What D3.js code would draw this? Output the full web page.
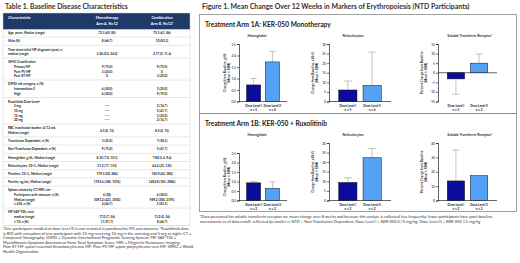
<!DOCTYPE html>
<html><head><meta charset="utf-8">
<script src="https://cdn.jsdelivr.net/npm/d3@7/dist/d3.min.js"></script>
<style>
html,body{margin:0;padding:0;background:#fff;}
svg{display:block;}
text{font-family:Lato,"Open Sans","DejaVu Sans",sans-serif;}
</style></head>
<body>
<svg id="chart" width="520" height="263" viewBox="0 0 520 263"></svg>
<script>
// ---------------- DATA ----------------
const tableTitle = "Table 1. Baseline Disease Characteristics";
const tableColumns = ["Characteristic", ["Monotherapy", "Arm A, N=12"], ["Combination", "Arm B, N=12\u1d43"]];
const rowLabels = [
  ["Age, years, Median (range)"],
  ["Male (%)"],
  ["Time since initial MF diagnosis (year), n,", "median (range)"],
  ["WHO Classification", "Primary MF", "Post-PV MF", "Post-ET MF"],
  ["DIPSS risk category, n (%)", "Intermediate-2", "High"],
  ["Ruxolitinib Dose Level\u1d47", "5 mg", "10 mg", "15 mg", "20 mg"],
  ["RBC transfusion burden, U/12 wk,", "Median (range)"],
  ["Transfusion Dependent, n (%)"],
  ["Non-Transfusion Dependent, n (%)"],
  ["Hemoglobin, g/dL, Median (range)"],
  ["Reticulocytes, 10\u2079/L, Median (range)"],
  ["Platelets, 10\u2079/L, Median (range)"],
  ["Ferritin, ng/mL, Median (range)"],
  ["Spleen volume by CT/MRI, cm\u00b3", "Participants with measure, n (%)", "Median (range)", "\u2265 450, n (%)"],
  ["MF-SAF-TSS, total", "median (range)", "\u2265 10, n (%)"]
];
const armAValues = [
  ["72.5 (60, 85)"], ["8 (66.7)"], ["", "3.26 (0.2, 26.0)"],
  ["", "9 (75.0)", "3 (25.0)", "0"],
  ["", "6 (50.0)", "6 (50.0)"],
  ["", "\u2014\u2014", "\u2014\u2014", "\u2014\u2014", "\u2014\u2014"],
  ["4.5 (0, 15)"], ["3 (25.0)"], ["9 (75.0)"], ["8.35 (7.0, 10.1)"],
  ["51.2 (17, 153)"], ["179.5 (28, 286)"], ["1193.6 (188, 7474)"],
  ["", "6 (50)", "1093.2 (423, 3550)", "4 (66.7)"],
  ["", "17.0 (7, 56)", "11 (91.7)"]
];
const armBValues = [
  ["75.5 (61, 86)"], ["10 (83.3)"], ["", "2.17 (0, 11.4)"],
  ["", "9 (75.0)", "0", "3 (25.0)"],
  ["", "3 (25.0)", "9 (75.0)"],
  ["", "2 (16.7)", "5 (41.7)", "3 (25.0)", "2 (16.7)"],
  ["8.5 (0, 15)"], ["7 (58.3)"], ["5 (41.7)"], ["7.80 (5.4, 9.4)"],
  ["64.4 (23, 125)"], ["150.9 (42, 380)"], ["1402.8 (183, 2984)"],
  ["", "6 (50.0)", "989.2 (380, 2195)", "5 (83.3)"],
  ["", "11.0 (0, 36)", "8 (66.7)"]
];
const indentedGroups = [3, 4, 5, 13, 14];
const tableFootnote = [
  "\u1d43One participant enrolled at dose level III is not included in postbaseline PD assessments; \u1d47Ruxolitinib dose",
  "is BID with exception of one participant with 15 mg receiving 10 mg in the morning and 5 mg at night; CT =",
  "Computed Tomography; DIPSS = Dynamic International Prognostic Scoring System; MF-SAF-TSS =",
  "Myelofibrosis Symptom Assessment Form Total Symptom Score; MRI = Magnetic Resonance Imaging;",
  "Post-ET MF =post-essential thrombocythemia MF; Post-PV MF =post-polycythemia vera MF; WHO = World",
  "Health Organization"
];

const figureTitle = "Figure 1. Mean Change Over 12 Weeks in Markers of Erythropoiesis (NTD Participants)";
const armTitles = ["Treatment Arm 1A: KER-050 Monotherapy", "Treatment Arm 1B: KER-050 + Ruxolitinib"];
const markers = ["Hemoglobin", "Reticulocytes", "Soluble Transferrin Receptor*"];
const yAxisTitles = [
  ["Change from Baseline, g/dL", "(Mean \u00b1 SEM)"],
  ["Change from Baseline, x10\u2079/L", "(Mean \u00b1 SEM)"],
  ["Percent Change from Baseline", "(Mean \u00b1 SEM)"]
];
const doseLevels = ["Dose Level I", "Dose Level II"];
// Arm 1A (monotherapy): [hemoglobin, reticulocytes, sTfR] x [DL I, DL II]
const arm1AMeans = [[0.72, 1.72], [6.0, 8.4], [-3.2, 5.0]];
const arm1AErr   = [[0.28, 0.45], [4.7, 17.4], [8.0, 4.8]];
const arm1AN     = [[5, 6], [5, 6], [5, 2]];
// Arm 1B (+ ruxolitinib)
const arm1BMeans = [[0.93, 0.64], [9.4, 22.3], [13.6, 17.3]];
const arm1BErr   = [[0.08, 0.34], [2.5, 4.8], [21.5, 0]];
const arm1BN     = [[2, 2], [2, 2], [2, 2]];
const arm1ATicks = [[0, 0.5, 1, 1.5, 2, 2.5], [0, 5, 10, 15, 20, 25, 30], [-15, -10, -5, 0, 5, 10, 15]];
const arm1BTicks = [[0, 0.5, 1, 1.5, 2, 2.5], [0, 5, 10, 15, 20, 25, 30], [0, 10, 20, 30, 40]];
const figureFootnote = [
  "\u1d43Data presented for soluble transferrin receptor are mean change over 8 weeks and because this analyte is collected less frequently, fewer participants have post-baseline",
  "assessments as of data cutoff, reflected by smaller n; NTD = Non-Transfusion Dependent; Dose Level I = KER-050 0.75 mg/kg; Dose Level II = KER-050 1.5 mg/kg"
];

// ---------------- STYLE ----------------
const C = {navy: "#1f3a68", text: "#222", title: "#333", dl1: "#0b0b9c", dl2: "#55a1f6",
           err: "#9c9c9c", box: "#8a8a8a", sep: "#cfcfcf"};
const svg = d3.select("#chart");

function fit(sel, w) {
  const L = sel.node().getComputedTextLength();
  const fs = parseFloat(sel.attr("font-size"));
  if (L > 0) sel.attr("font-size", fs * w / L);
  return parseFloat(sel.attr("font-size"));
}
function txt(parent, s, x, y, fs, opts = {}) {
  return parent.append("text").attr("x", x).attr("y", y + fs * 0.36)
    .attr("font-size", fs).attr("fill", opts.fill || C.text)
    .attr("font-weight", opts.weight || 400)
    .attr("text-anchor", opts.anchor || "start").text(s);
}

// ---------------- TABLE ----------------
const T = {x0: 3, x1: 190, headTop: 13, headBot: 29.3, labelX: 8, indentX: 14, colA: 107, colB: 162};
fit(txt(svg, tableTitle, 5, 7, 6.6, {weight: 700, fill: C.title}), 123);

const tg = svg.append("g");
tg.append("rect").attr("x", T.x0).attr("y", T.headTop).attr("width", T.x1 - T.x0)
  .attr("height", T.headBot - T.headTop).attr("fill", C.navy);
txt(tg, tableColumns[0], T.labelX, 17.5, 3.7, {weight: 700, fill: "#fff"});
[T.colA, T.colB].forEach((cx, i) => {
  tableColumns[i + 1].forEach((s, li) =>
    txt(tg, s, cx, 17.5 + li * 6.3, 3.7, {weight: 700, fill: "#fff", anchor: "middle"}));
});

const lineH = 4.6, gap = 3.6, rowFs = 3.15;
let yc = 33, lastSep = T.headBot;
rowLabels.forEach((labels, gi) => {
  const start = yc;
  labels.forEach((lab, li) => {
    const ind = indentedGroups.includes(gi) && li > 0;
    txt(tg, lab, ind ? T.indentX : T.labelX, start + li * lineH, rowFs, {weight: 700, fill: "#1a1a1a"});
  });
  [armAValues, armBValues].forEach((vals, ci) => {
    const cx = ci ? T.colB : T.colA;
    const arr = vals[gi];
    if (arr.length === 1 && labels.length > 1) {
      txt(tg, arr[0], cx, start + (labels.length - 1) * lineH / 2, rowFs, {weight: 700, anchor: "middle", fill: "#1a1a1a"});
    } else {
      arr.forEach((v, li) => { if (v) txt(tg, v, cx, start + li * lineH, rowFs, {weight: 700, anchor: "middle", fill: "#1a1a1a"}); });
    }
  });
  const end = start + (labels.length - 1) * lineH;
  const sepY = end + (lineH + gap) / 2;
  tg.append("line").attr("x1", T.x0).attr("x2", T.x1).attr("y1", sepY).attr("y2", sepY)
    .attr("stroke", C.sep).attr("stroke-width", 0.5);
  lastSep = sepY;
  yc = end + lineH + gap;
});
tg.append("rect").attr("x", T.x0).attr("y", T.headTop).attr("width", T.x1 - T.x0)
  .attr("height", lastSep - T.headTop).attr("fill", "none").attr("stroke", C.sep).attr("stroke-width", 0.5);

let fnFs = 3.4;
tableFootnote.forEach((s, i) => {
  const t = txt(svg, s, 3, lastSep + 3.0 + i * 4.6, fnFs, {fill: "#333"});
  if (i === 0) fnFs = fit(t, 186);
});

// ---------------- FIGURE ----------------
fit(txt(svg, figureTitle, 202, 7, 6.6, {weight: 700, fill: C.title}), 268);

const figPanels = [
  {oy: 15, boxH: 99, means: arm1AMeans, err: arm1AErr, n: arm1AN, ticks: arm1ATicks, title: armTitles[0], titleW: 126},
  {oy: 114, boxH: 98, means: arm1BMeans, err: arm1BErr, n: arm1BN, ticks: arm1BTicks, title: armTitles[1], titleW: 122}
];
const subLayout = [
  {axisX: 239, xEnd: 287, labX: 225.5, titleX: 257, fmt: d3.format(".1f")},
  {axisX: 329, xEnd: 391, labX: 313.5, titleX: 353, fmt: d3.format("d")},
  {axisX: 438, xEnd: 497, labX: 423, titleX: 470, fmt: d3.format("d")}
];
const topOffsets = [[29, 29, 29], [39, 29, 29]];

figPanels.forEach((p, pi) => {
  const g = svg.append("g");
  g.append("rect").attr("x", 199.5).attr("y", p.oy - 0.5).attr("width", 317).attr("height", p.boxH)
    .attr("fill", "none").attr("stroke", C.box).attr("stroke-width", 0.8);
  fit(txt(g, p.title, 205, p.oy + 9.5, 7, {weight: 700, fill: "#1a1a1a"}), p.titleW);

  markers.forEach((m, si) => {
    const L = subLayout[si];
    const ticks = p.ticks[si];
    const yBot = p.oy + 86.5, yTop = p.oy + topOffsets[pi][si];
    const x = d3.scaleBand().domain(doseLevels).range([L.axisX, L.xEnd]).paddingInner(0.25).paddingOuter(0.4);
    const y = d3.scaleLinear().domain(d3.extent(ticks)).range([yBot, yTop]);
    const sg = g.append("g");

    txt(sg, m, L.titleX, p.oy + 20.5, 3.5, {anchor: "middle", weight: 700, fill: "#333"});

    const ax = sg.append("g").attr("transform", `translate(${L.axisX},0)`)
      .call(d3.axisLeft(y).tickValues(ticks).tickSize(2).tickPadding(1)
        .tickFormat(v => L.fmt(v).replace("\u2212", "-")));
    ax.select(".domain").attr("stroke", "#000").attr("stroke-width", 0.6);
    ax.selectAll(".tick line").attr("stroke", "#000").attr("stroke-width", 0.6);
    ax.selectAll(".tick text").attr("font-size", 3.3).attr("fill", "#111")
      .attr("font-family", "Lato, 'Open Sans', sans-serif");

    const ymid = (yTop + yBot) / 2;
    yAxisTitles[si].forEach((s, li) => {
      sg.append("text").attr("transform", `translate(${L.labX + li * 4.2},${ymid}) rotate(-90)`)
        .attr("text-anchor", "middle").attr("font-size", 3.2).attr("font-weight", 700)
        .attr("fill", "#222").text(s);
    });

    sg.append("line").attr("x1", L.axisX).attr("x2", L.xEnd).attr("y1", y(0)).attr("y2", y(0))
      .attr("stroke", "#000").attr("stroke-width", 0.6);

    const vals = doseLevels.map((d, i) => ({d, v: p.means[si][i], e: p.err[si][i], n: p.n[si][i], i}));
    const bw = x.bandwidth();
    vals.filter(o => o.e > 0).forEach(o => {
      const cx = x(o.d) + bw / 2;
      const end = o.v + Math.sign(o.v) * o.e;
      sg.append("line").attr("x1", cx).attr("x2", cx).attr("y1", y(o.v)).attr("y2", y(end))
        .attr("stroke", C.err).attr("stroke-width", 0.6);
      sg.append("line").attr("x1", cx - bw * 0.22).attr("x2", cx + bw * 0.22).attr("y1", y(end)).attr("y2", y(end))
        .attr("stroke", C.err).attr("stroke-width", 0.6);
    });
    sg.selectAll("rect.bar").data(vals).join("rect").attr("class", "bar")
      .attr("x", o => x(o.d)).attr("width", bw)
      .attr("y", o => Math.min(y(o.v), y(0))).attr("height", o => Math.abs(y(o.v) - y(0)))
      .attr("fill", o => o.i === 0 ? C.dl1 : C.dl2).attr("stroke", "#111").attr("stroke-width", 0.5);

    vals.forEach(o => {
      const cx = x(o.d) + bw / 2;
      txt(sg, o.d, cx, yBot + 4.4, 3.1, {anchor: "middle", weight: 700, fill: "#222"});
      txt(sg, `n = ${o.n}`, cx, yBot + 8.1, 3.1, {anchor: "middle", weight: 700, fill: "#222"});
    });
  });
});

let ffs = 3.4;
figureFootnote.forEach((s, i) => {
  const t = txt(svg, s, 200, 216.8 + i * 4.4, ffs, {fill: "#333"});
  if (i === 0) ffs = fit(t, 293);
});
</script>
</body></html>
